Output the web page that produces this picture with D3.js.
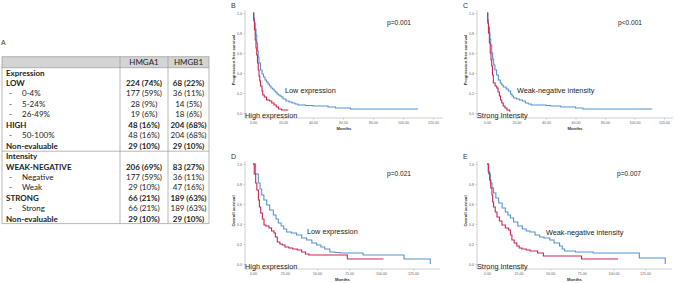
<!DOCTYPE html>
<html lang="en">
<head>
<meta charset="UTF-8">
<title>HMGA1 / HMGB1 expression and survival</title>
<script src="https://d3js.org/d3.v7.min.js"></script>
<style>
    body { margin: 0; background: #fff; overflow: hidden; }
    svg { display: block; }
    .tbl text { font-family: Lato, "Open Sans", sans-serif; font-size: 8px; fill: #222; }
    .tbl line { stroke: #9a9a9a; stroke-width: 0.7px; }
    .axis path, .axis line { stroke: #b0b0b0; stroke-width: 0.6px; }
    .axis text { font-family: "Liberation Sans", Arial, sans-serif; font-size: 3.6px; fill: #666; }
    .curve { fill: none; stroke-width: 1.1px; }
    .note { font-family: "Liberation Sans", Arial, sans-serif; font-size: 7.3px; fill: #222; }
    .pval { font-family: "Liberation Sans", Arial, sans-serif; font-size: 6.6px; fill: #222; }
    .letter { font-family: "Liberation Sans", Arial, sans-serif; font-size: 7px; fill: #333; }
    .axlabel { font-family: "Liberation Sans", Arial, sans-serif; font-size: 4.2px; font-weight: bold; fill: #333; }
</style>
</head>
<body>
<svg width="676" height="283"></svg>
<script>
// ---- panel A table
const tableHeader = ["", "HMGA1", "HMGB1"];
const rowLabels = ["Expression", "LOW", "- 0-4%", "- 5-24%", "- 26-49%", "HIGH", "- 50-100%", "Non-evaluable",
                   "Intensity", "WEAK-NEGATIVE", "- Negative", "- Weak", "STRONG", "- Strong", "Non-evaluable"];
const hmga1Values = ["", "224 (74%)", "177 (59%)", "28 (9%)", "19 (6%)", "48 (16%)", "48 (16%)", "29 (10%)",
                     "", "206 (69%)", "177 (59%)", "29 (10%)", "66 (21%)", "66 (21%)", "29 (10%)"];
const hmgb1Values = ["", "68 (22%)", "36 (11%)", "14 (5%)", "18 (6%)", "204 (68%)", "204 (68%)", "29 (10%)",
                     "", "83 (27%)", "36 (11%)", "47 (16%)", "189 (63%)", "189 (63%)", "29 (10%)"];

// ---- Kaplan-Meier steps, [months, survival]
const pfsLowExpression = [[0,1],[0.5,0.95],[1,0.9],[1.5,0.84],[2,0.78],[2.5,0.7],[3,0.62],[3.5,0.56],[4,0.5],[5,0.43],
    [6,0.39],[7,0.36],[8,0.33],[9,0.31],[10,0.29],[11,0.27],[12,0.25],[13,0.24],[14,0.22],[15,0.21],[16,0.19],[17,0.18],
    [18,0.17],[19,0.16],[20,0.14],[22,0.12],[24,0.11],[26,0.1],[28,0.09],[30,0.08],[35,0.075],[40,0.07],[50,0.06],
    [55,0.05],[65,0.04],[110,0.04]];
const pfsHighExpression = [[0,1],[0.5,0.92],[1,0.83],[1.5,0.73],[2,0.65],[2.5,0.58],[3,0.5],[3.5,0.43],[4,0.37],
    [4.5,0.32],[5,0.27],[6,0.22],[6.5,0.18],[7.5,0.16],[9,0.13],[11,0.12],[12.5,0.1],[14,0.08],[15.5,0.06],[17,0.04],
    [19,0.03],[23.5,0.03]];
const pfsWeakIntensity = [[0,1],[0.5,0.93],[1,0.86],[1.6,0.8],[2,0.74],[2.5,0.68],[3.2,0.6],[3.8,0.54],[4.5,0.48],
    [5.4,0.43],[6.5,0.38],[7.7,0.33],[9,0.3],[10,0.28],[11,0.26],[13,0.24],[14.5,0.22],[16,0.19],[17,0.17],[18,0.15],
    [20,0.14],[22,0.13],[24,0.12],[26,0.1],[28,0.09],[30,0.08],[40,0.075],[43,0.07],[50,0.06],[60,0.05],[65,0.04],
    [112,0.04]];
const pfsStrongIntensity = [[0,1],[0.5,0.9],[1,0.8],[1.6,0.7],[2.2,0.6],[2.7,0.53],[3.2,0.47],[3.7,0.38],[4.3,0.3],
    [5.5,0.27],[6.6,0.25],[7.5,0.21],[8.4,0.17],[9.2,0.13],[10,0.1],[11,0.07],[12.2,0.05],[13.5,0.03],[15.2,0.02],
    [16,0.02]];
const osLowExpression = [[0,1],[2,0.9],[4.2,0.81],[5.5,0.75],[6.8,0.69],[8.5,0.64],[10.7,0.59],[13,0.54],[15.9,0.49],
    [18,0.45],[19.8,0.41],[22,0.38],[24,0.35],[26.3,0.32],[30,0.31],[34,0.29],[38,0.26],[41.9,0.24],[46,0.21],
    [49.7,0.19],[53,0.17],[56,0.15],[60,0.12],[64,0.115],[68,0.11],[86,0.09],[118,0.05],[138.5,0]];
const osHighExpression = [[0,1],[1,0.9],[2.1,0.81],[3,0.74],[4.2,0.64],[5,0.57],[6,0.51],[7.3,0.45],[8.6,0.39],
    [10,0.38],[12.5,0.36],[14.5,0.33],[16.4,0.31],[17.5,0.27],[19,0.22],[21,0.2],[22.9,0.19],[25,0.17],[28,0.16],
    [31,0.15],[34.6,0.14],[38,0.12],[41,0.1],[43.7,0.09],[73.7,0.05],[102,0.05]];
const osWeakIntensity = [[0,1],[1.3,0.9],[2.6,0.81],[4,0.76],[5.2,0.71],[7,0.66],[9.2,0.61],[12,0.56],[14.5,0.52],
    [16.5,0.49],[18.5,0.46],[21,0.42],[24.4,0.38],[28,0.35],[31,0.33],[33.9,0.32],[38,0.29],[41.7,0.27],[45,0.26],
    [49.6,0.24],[53,0.21],[57.4,0.18],[59.5,0.15],[61.4,0.13],[70,0.12],[84,0.11],[120.5,0.06],[141,0]];
const osStrongIntensity = [[0,1],[1,0.92],[2.1,0.84],[3,0.76],[3.9,0.69],[4.5,0.62],[5.2,0.57],[6.5,0.52],[7.9,0.47],
    [9.8,0.43],[11.8,0.39],[14.5,0.36],[17.1,0.34],[18.5,0.29],[19.7,0.24],[21.5,0.21],[23.6,0.18],[25.5,0.16],
    [27.6,0.15],[31,0.14],[34.1,0.13],[40,0.11],[44.6,0.08],[74.8,0.05],[103.7,0.05]];

const pfsTicks = [0, 20, 40, 60, 80, 100, 120];
const osTicks = [0, 25, 50, 75, 100, 125];
const survTicks = [0, 0.2, 0.4, 0.6, 0.8, 1.0];

const blue = "#5593d4", red = "#cc2450";
const svg = d3.select("svg");

// ---------- table ----------
const tbl = svg.append("g").attr("class", "tbl");
const colX = [2, 120, 168, 209];
const rowY = i => 72.7 + i * 10.45;

tbl.append("rect").attr("x", colX[0]).attr("y", 56.7).attr("width", colX[3] - colX[0]).attr("height", 11)
    .attr("fill", "#d4d4d4");
[56.7, 67.7, 151.2, 223.6].forEach(y =>
    tbl.append("line").attr("x1", colX[0]).attr("x2", colX[3]).attr("y1", y).attr("y2", y));
colX.forEach(x =>
    tbl.append("line").attr("x1", x).attr("x2", x).attr("y1", 56.7).attr("y2", 223.6));

tbl.selectAll("text.head").data(tableHeader.slice(1)).enter().append("text")
    .attr("x", (d, i) => (colX[i + 1] + colX[i + 2]) / 2)
    .attr("y", 62.4).attr("dy", "0.35em")
    .attr("text-anchor", "middle")
    .text(d => d);

// sub rows start with "- " and are indented, normal weight
const isSub = s => s.startsWith("- ");
tbl.selectAll("g.row").data(rowLabels).enter().append("g").attr("class", "row")
    .each(function(d, i) {
        const g = d3.select(this);
        const y = rowY(i);
        const weight = isSub(d) ? "normal" : "bold";
        if (isSub(d)) {
            g.append("text").attr("x", 9).attr("y", y).attr("dy", "0.35em").text("-");
            g.append("text").attr("x", 22).attr("y", y).attr("dy", "0.35em").text(d.slice(2));
        } else {
            g.append("text").attr("x", 6).attr("y", y).attr("dy", "0.35em").attr("font-weight", weight).text(d);
        }
        g.append("text").attr("x", 144).attr("y", y).attr("dy", "0.35em")
            .attr("text-anchor", "middle").attr("font-weight", weight).text(hmga1Values[i]);
        g.append("text").attr("x", 188.5).attr("y", y).attr("dy", "0.35em")
            .attr("text-anchor", "middle").attr("font-weight", weight).text(hmgb1Values[i]);
    });

svg.append("text").attr("class", "letter").attr("x", 1).attr("y", 44.5).text("A");

// ---------- survival panels ----------
const panels = [
    { letter: "B", yLabel: "Progression-free survival", left: 245, top: 13, x0: 253, xEnd: 433, axEnd: 443,
      ticks: pfsTicks, hi: pfsHighExpression, lo: pfsLowExpression, p: "p=0.001", px: 387,
      loLabel: "Low expression", loX: 285, loDy: 79.6, hiLabel: "High expression", hiX: 245 },
    { letter: "C", yLabel: "Progression-free survival", left: 477, top: 13, x0: 487, xEnd: 664, axEnd: 673,
      ticks: pfsTicks, hi: pfsStrongIntensity, lo: pfsWeakIntensity, p: "p<0.001", px: 618,
      loLabel: "Weak-negative intensity", loX: 517, loDy: 79.6, hiLabel: "Strong Intensity", hiX: 477 },
    { letter: "D", yLabel: "Overall survival", left: 245, top: 164, x0: 253, xEnd: 413, axEnd: 440,
      ticks: osTicks, hi: osHighExpression, lo: osLowExpression, p: "p=0.021", px: 387,
      loLabel: "Low expression", loX: 307, loDy: 69.6, hiLabel: "High expression", hiX: 245 },
    { letter: "E", yLabel: "Overall survival", left: 477, top: 164, x0: 487, xEnd: 645, axEnd: 672,
      ticks: osTicks, hi: osStrongIntensity, lo: osWeakIntensity, p: "p=0.007", px: 617,
      loLabel: "Weak-negative intensity", loX: 546, loDy: 70.6, hiLabel: "Strong Intensity", hiX: 477 }
];

panels.forEach(pn => {
    const g = svg.append("g");
    const bottom = pn.top + 100;
    const axisY = bottom + 5;
    const x = d3.scaleLinear().domain([0, pn.ticks[pn.ticks.length - 1]]).range([pn.x0, pn.xEnd]);
    const y = d3.scaleLinear().domain([0, 1]).range([bottom, pn.top]);

    // axes
    const xa = g.append("g").attr("class", "axis").attr("transform", `translate(0,${axisY})`)
        .call(d3.axisBottom(x).tickValues(pn.ticks).tickFormat(d3.format(".2f")).tickSize(1.5).tickPadding(2));
    xa.select(".domain").remove();
    xa.append("line").attr("x1", pn.left).attr("x2", pn.axEnd).attr("y1", 0).attr("y2", 0);

    const ya = g.append("g").attr("class", "axis").attr("transform", `translate(${pn.left},0)`)
        .call(d3.axisLeft(y).tickValues(survTicks).tickFormat(d3.format(".1f")).tickSize(1.5).tickPadding(1.5));
    ya.select(".domain").remove();
    ya.append("line").attr("x1", 0).attr("x2", 0).attr("y1", pn.top - 3).attr("y2", axisY);

    g.append("text").attr("class", "axlabel").attr("text-anchor", "middle")
        .attr("x", (pn.left + pn.axEnd) / 2).attr("y", axisY + 12).text("Months");
    g.append("text").attr("class", "axlabel").attr("text-anchor", "middle")
        .attr("transform", `translate(${pn.left - 10},${pn.top + 47}) rotate(-90)`).text(pn.yLabel);
    g.append("text").attr("class", "letter").attr("x", pn.left - 14).attr("y", pn.top - 5.5).text(pn.letter);

    // curves
    const line = d3.line().x(d => x(d[0])).y(d => y(d[1])).curve(d3.curveStepAfter);
    g.append("path").attr("class", "curve").attr("stroke", blue).attr("d", line(pn.lo));
    g.append("path").attr("class", "curve").attr("stroke", red).attr("d", line(pn.hi));

    g.append("text").attr("class", "pval").attr("x", pn.px).attr("y", pn.top + 12.3).text(pn.p);
    g.append("text").attr("class", "note").attr("x", pn.loX).attr("y", pn.top + pn.loDy).text(pn.loLabel);
    g.append("text").attr("class", "note").attr("x", pn.hiX).attr("y", bottom + 4.6).text(pn.hiLabel);
});
</script>
</body>
</html>
